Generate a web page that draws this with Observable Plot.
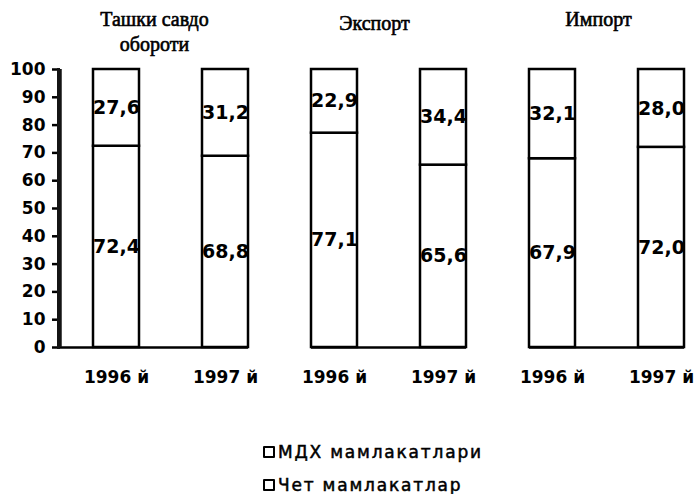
<!DOCTYPE html>
<html><head><meta charset="utf-8">
<script src="https://cdn.jsdelivr.net/npm/d3@7"></script>
<script src="https://cdn.jsdelivr.net/npm/@observablehq/plot@0.6"></script>
<style>
body{margin:0;background:#fff;}
#chart svg{display:block}
g[aria-label="title"] text{letter-spacing:1.6px}
g[aria-label="y-axis tick label"] text, g[aria-label="x-axis tick label"] text{font-family:"DejaVu Sans";font-weight:bold;font-size:17px}
.legend{margin-left:263px;margin-top:35px;font-family:"DejaVu Sans";font-size:17px;letter-spacing:1.8px;color:#000;-webkit-text-stroke:0.5px #000}
.legend .item{display:flex;align-items:center;height:33.5px}
.legend .sw{width:8px;height:8px;border:2.5px solid #000;border-radius:1px;margin-right:3px;background:#fff;flex:none}
</style></head><body>
<div id="chart"></div>
<script>
const groups = ["Ташки савдо\nобороти", "Экспорт", "Импорт"];
const years = ["1996 й", "1997 й"];
const seriesNames = ["МДХ мамлакатлари", "Чет мамлакатлар"];
const mdhShare = [27.6, 31.2, 22.9, 34.4, 32.1, 28.0];
const chetShare = [72.4, 68.8, 77.1, 65.6, 67.9, 72.0];
const yTicks = [0, 10, 20, 30, 40, 50, 60, 70, 80, 90, 100];

const key = (gi, yi) => gi + "|" + years[yi];
const keys = [];
const rows = [];
groups.forEach((g, gi) => years.forEach((y, yi) => {
  const i = gi * 2 + yi;
  keys.push(key(gi, yi));
  rows.push({key: key(gi, yi), series: seriesNames[1], value: chetShare[i]});
  rows.push({key: key(gi, yi), series: seriesNames[0], value: mdhShare[i]});
}));
const titleRows = groups.map((g, gi) => ({key: key(gi, 0), text: g}));
const fmt = v => v.toFixed(1).replace(".", ",");
const titleOffsets = [{dx: 38, dy: -19}, {dx: 40, dy: -40}, {dx: 46, dy: -44}];

const marks = [
  Plot.barY(rows, {x: "key", y: "value", fill: "white", stroke: "black", strokeWidth: 2.5}),
  Plot.text(rows, Plot.stackY({x: "key", y: "value", text: d => fmt(d.value), fill: "black",
    fontSize: 19, fontWeight: "bold", fontFamily: "DejaVu Sans"})),
  Plot.ruleY([0], {x1: () => key(0, 0), x2: () => key(0, 1), insetLeft: -33, stroke: "black", strokeWidth: 2.5}),
  Plot.ruleY([1, 2], {y: () => 0, x1: gi => key(gi, 0), x2: gi => key(gi, 1), stroke: "black", strokeWidth: 2.5}),
  Plot.frame({anchor: "left", stroke: "#141414", strokeWidth: 3}),
  Plot.ruleX([key(0, 0)], {y1: 0, y2: 100, dx: -56, stroke: "#141414", strokeWidth: 2.5}),
  ...titleOffsets.map((o, gi) => Plot.text(titleRows, {
    filter: (d, i) => i === gi, x: "key", text: "text", frameAnchor: "top", lineAnchor: "bottom",
    dx: o.dx, dy: o.dy, fontSize: 20, lineHeight: 1.25, fontFamily: "Liberation Serif", fill: "black",
    stroke: "black", strokeWidth: 0.6, ariaLabel: "title"
  }))
];

const plot = Plot.plot({
  width: 697, height: 400,
  marginLeft: 58, marginRight: 0, marginTop: 69, marginBottom: 53,
  x: {type: "band", domain: keys, paddingInner: 0.58, paddingOuter: 0.205, align: 0.73,
      tickSize: 0, tickPadding: 23, tickFormat: d => d.split("|")[1], label: null},
  y: {domain: [0, 100], ticks: yTicks, tickSize: 6, tickPadding: 7, tickFormat: d => d, label: null},
  style: {background: "white", color: "black", fontFamily: "DejaVu Sans", overflow: "visible"},
  marks
});
document.getElementById("chart").appendChild(plot);
plot.querySelectorAll('g[aria-label="y-axis tick"]').forEach(g => g.setAttribute("stroke-width", 2.5));

const legend = document.createElement("div");
legend.className = "legend";
seriesNames.forEach(n => {
  const it = document.createElement("div");
  it.className = "item";
  const sw = document.createElement("span");
  sw.className = "sw";
  const tx = document.createElement("span");
  tx.textContent = n;
  it.appendChild(sw); it.appendChild(tx);
  legend.appendChild(it);
});
document.body.appendChild(legend);
</script>
</body></html>
